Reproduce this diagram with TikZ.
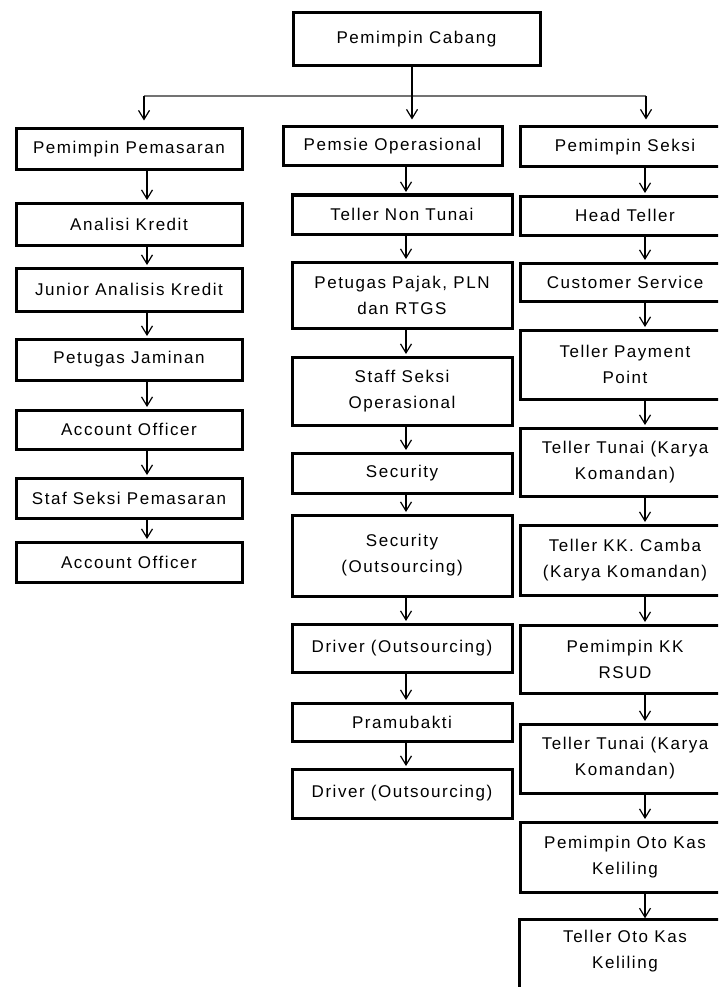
\documentclass[tikz,border=0pt]{standalone}
\usepackage{fontspec}
\setmainfont{Liberation Sans}[LetterSpace=9]
\usetikzlibrary{arrows.meta}
\tikzset{
  orgbox/.style={draw=black, line width=3pt, fill=white, inner sep=0pt, align=center,
    font=\fontsize{17}{26}\selectfont},
  openbox/.style={draw=none, inner sep=0pt, align=center, font=\fontsize{17}{26}\selectfont},
  conn/.style={draw=black, line width=1.2pt, -{Straight Barb[length=9pt,width=11pt,line width=1.2pt]}, shorten >=1.5pt},
  hline/.style={draw=black!55, line width=1.2pt},
}
\begin{document}
\begin{tikzpicture}[x=1pt,y=-1pt]
\useasboundingbox (0,0) rectangle (718,987);
\clip (0,0) rectangle (718,987);
\fill[white] (0,0) rectangle (718,987);
% column coordinates
\coordinate (xt) at (412,0);
\coordinate (xl) at (147,0);
\coordinate (xm) at (406,0);
\coordinate (xr) at (645,0);
\coordinate (hl) at (144,96);
\coordinate (hr) at (646,96);
\coordinate (hm) at (412,96);
% top
\node[orgbox, minimum width=247pt, minimum height=53pt] (top) at (416.5,39.5) {Pemimpin Cabang};
% left column
\node[orgbox, minimum width=226pt, minimum height=41pt] (L1) at (129,149.5) {Pemimpin Pemasaran};
\node[orgbox, minimum width=226pt, minimum height=42pt] (L2) at (129,224) {Analisi Kredit};
\node[orgbox, minimum width=226pt, minimum height=43pt] (L3) at (129,289.5) {Junior Analisis Kredit};
\node[orgbox, minimum width=226pt, minimum height=41pt] (L4) at (129,359.5) {Petugas Jaminan};
\node[orgbox, minimum width=226pt, minimum height=39pt] (L5) at (129,429.5) {Account Officer};
\node[orgbox, minimum width=226pt, minimum height=40pt] (L6) at (129,498) {Staf Seksi Pemasaran};
\node[orgbox, minimum width=226pt, minimum height=40pt] (L7) at (129,562) {Account Officer};
% middle column
\node[orgbox, minimum width=219pt, minimum height=39pt] (M1) at (392.5,146.5) {Pemsie Operasional};
\node[orgbox, minimum width=220pt, minimum height=39pt] (M2) at (402,214.5) {Teller Non Tunai};
\node[orgbox, minimum width=220pt, minimum height=66pt] (M3) at (402,295) {Petugas Pajak, PLN\\dan RTGS};
\node[orgbox, minimum width=220pt, minimum height=68pt] (M4) at (402,391) {Staff Seksi\\Operasional};
\node[orgbox, minimum width=220pt, minimum height=40pt] (M5) at (402,473) {Security};
\node[orgbox, minimum width=220pt, minimum height=81pt] (M6) at (402,555.5) {Security\\(Outsourcing)};
\node[orgbox, minimum width=220pt, minimum height=48pt] (M7) at (402,648) {Driver (Outsourcing)};
\node[orgbox, minimum width=220pt, minimum height=38pt] (M8) at (402,722) {Pramubakti};
\node[orgbox, minimum width=220pt, minimum height=49pt] (M9) at (402,793.5) {Driver (Outsourcing)};
% right column
\node[orgbox, minimum width=210pt, minimum height=40pt] (R1) at (625,147) {Pemimpin Seksi};
\node[orgbox, minimum width=210pt, minimum height=39pt] (R2) at (625,215.5) {Head Teller};
\node[orgbox, minimum width=210pt, minimum height=38pt] (R3) at (625,282) {Customer Service};
\node[orgbox, minimum width=210pt, minimum height=69pt] (R4) at (625,364.5) {Teller Payment\\Point};
\node[orgbox, minimum width=210pt, minimum height=68pt] (R5) at (625,462) {Teller Tunai (Karya\\Komandan)};
\node[orgbox, minimum width=210pt, minimum height=70pt] (R6) at (625,560) {Teller KK. Camba\\(Karya Komandan)};
\node[orgbox, minimum width=210pt, minimum height=68pt] (R7) at (625,659) {Pemimpin KK\\RSUD};
\node[orgbox, minimum width=210pt, minimum height=69pt] (R8) at (625,758.5) {Teller Tunai (Karya\\Komandan)};
\node[orgbox, minimum width=210pt, minimum height=70pt] (R9) at (625,857) {Pemimpin Oto Kas\\Keliling};
\node[openbox, minimum width=210pt, minimum height=63pt] (R10) at (625,951.5) {Teller Oto Kas\\Keliling};
\draw[line width=3pt] (R10.north west) rectangle ([yshift=-30pt]R10.south east);
% top connectors
\draw[hline] (hl) -- (hr);
\draw[conn, shorten >=6pt] (top.south -| xt) -- (M1.north -| xt);
\draw[conn, shorten >=7pt] (hl) -- (L1.north -| hl);
\draw[conn, shorten >=6pt] (hr) -- (R1.north -| hr);
% left chain
\foreach \a/\b in {L1/L2,L2/L3,L3/L4,L4/L5,L5/L6,L6/L7}
  \draw[conn] (\a.south -| xl) -- (\b.north -| xl);
% middle chain
\foreach \a/\b in {M1/M2,M2/M3,M3/M4,M4/M5,M5/M6,M6/M7,M7/M8,M8/M9}
  \draw[conn] (\a.south -| xm) -- (\b.north -| xm);
% right chain
\foreach \a/\b in {R1/R2,R2/R3,R3/R4,R4/R5,R5/R6,R6/R7,R7/R8,R8/R9,R9/R10}
  \draw[conn] (\a.south -| xr) -- (\b.north -| xr);
\end{tikzpicture}
\end{document}
